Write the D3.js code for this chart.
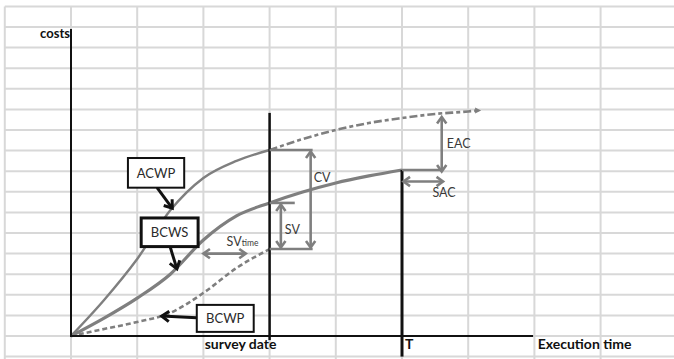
<!DOCTYPE html>
<html><head><meta charset="utf-8">
<script src="https://cdn.jsdelivr.net/npm/d3@7"></script>
<style>body{margin:0;background:#fff}svg{display:block}</style>
</head><body>
<svg id="c" width="674" height="359"></svg>
<script>
// ---- data (time units = grid columns, cost units = grid rows) ----
const acwpX = [0, 0.5, 1, 1.5, 2, 2.5, 3];
const acwpY = [0, 1.75, 3.74, 6.1, 7.67, 8.5, 9.03];
const eacX  = [3, 3.5, 4, 4.5, 5, 5.5, 6, 6.15];
const eacY  = [9.03, 9.56, 10.0, 10.34, 10.58, 10.78, 10.9, 10.95];
const bcwsX = [0, 0.5, 1, 1.5, 2, 2.5, 3, 3.5, 4, 4.5, 5];
const bcwsY = [0, 0.87, 1.84, 3.0, 4.66, 5.83, 6.46, 6.99, 7.43, 7.77, 8.06];
const bcwpX = [0, 0.5, 1, 1.5, 2, 2.5, 3];
const bcwpY = [0, 0.34, 0.68, 1.12, 2.09, 3.3, 4.22];
const surveyDate = 3, finishT = 5;
const axisLabels = ["costs", "survey date", "T", "Execution time"];
const boxLabels = ["ACWP", "BCWS", "BCWP"];
const measureLabels = ["CV", "SV", "EAC", "SAC"];

const svg = d3.select("#c");
const x = d3.scaleLinear().domain([0, 9]).range([71, 666.8]);
const y = d3.scaleLinear().domain([0, 16]).range([336, 6.4]);
const FONT = "Lato, 'Open Sans', sans-serif";
const GREY = "#7f7f7f";

// ---- spreadsheet grid ----
const g = svg.append("g");
g.selectAll("line.v").data(d3.range(-1, 9)).join("line")
  .attr("x1", d => x(d)).attr("x2", d => x(d)).attr("y1", y(16)).attr("y2", 359)
  .attr("stroke", "#d8d8d8").attr("stroke-width", 2);
g.selectAll("line.h").data(d3.range(-1, 17)).join("line")
  .attr("y1", d => y(d)).attr("y2", d => y(d)).attr("x1", x(-1)).attr("x2", 674)
  .attr("stroke", "#d8d8d8").attr("stroke-width", 2);

const zip = (xa, ya) => xa.map((v, i) => [v, ya[i]]);
const line = d3.line().x(d => x(d[0])).y(d => y(d[1])).curve(d3.curveMonotoneX);

// ---- curves ----
svg.append("path").attr("d", line(zip(acwpX, acwpY))).attr("fill", "none")
  .attr("stroke", GREY).attr("stroke-width", 2.4);
svg.append("path").attr("d", line(zip(eacX, eacY))).attr("fill", "none")
  .attr("stroke", GREY).attr("stroke-width", 2.6).attr("stroke-dasharray", "8,3,4,3");
svg.append("path").attr("d", line(zip(bcwsX, bcwsY))).attr("fill", "none")
  .attr("stroke", GREY).attr("stroke-width", 3.2);
svg.append("path").attr("d", line(zip(bcwpX, bcwpY))).attr("fill", "none")
  .attr("stroke", GREY).attr("stroke-width", 2.6).attr("stroke-dasharray", "5,3");
// end marker of forecast line
{
  const n = eacX.length - 1;
  const px = x(eacX[n]), py = y(eacY[n]);
  svg.append("path").attr("d", `M${px + 3},${py} L${px - 3},${py - 3} L${px - 3},${py + 3}Z`)
    .attr("fill", GREY);
}

// ---- axes ----
svg.append("line").attr("x1", x(0)).attr("x2", x(0)).attr("y1", y(14.9)).attr("y2", y(0) + 1)
  .attr("stroke", "#111").attr("stroke-width", 2);
svg.append("line").attr("x1", x(0)).attr("x2", x(6.98)).attr("y1", y(0)).attr("y2", y(0))
  .attr("stroke", "#111").attr("stroke-width", 2.2);
svg.append("line").attr("x1", x(surveyDate)).attr("x2", x(surveyDate)).attr("y1", y(10.83)).attr("y2", y(-0.2))
  .attr("stroke", "#111").attr("stroke-width", 2.5);
svg.append("line").attr("x1", x(finishT)).attr("x2", x(finishT)).attr("y1", y(8.06)).attr("y2", y(-1))
  .attr("stroke", "#111").attr("stroke-width", 3);

// ---- helper: chevron arrow head ----
function head(tx, ty, fx, fy, len, color, w) {
  const a = Math.atan2(ty - fy, tx - fx), s = 0.62;
  const p1 = [tx - len * Math.cos(a - s), ty - len * Math.sin(a - s)];
  const p2 = [tx - len * Math.cos(a + s), ty - len * Math.sin(a + s)];
  svg.append("path").attr("d", `M${p1}L${tx},${ty}L${p2}`).attr("fill", "none")
    .attr("stroke", color).attr("stroke-width", w).attr("stroke-linejoin", "miter");
}
function seg(x1, y1, x2, y2, color, w) {
  svg.append("line").attr("x1", x1).attr("y1", y1).attr("x2", x2).attr("y2", y2)
    .attr("stroke", color).attr("stroke-width", w);
}
function dbl(x1, y1, x2, y2) {
  seg(x1, y1, x2, y2, GREY, 2.6);
  head(x1, y1, x2, y2, 8, GREY, 2.6);
  head(x2, y2, x1, y1, 8, GREY, 2.6);
}

// ---- measures ----
const aS = acwpY[acwpY.length - 1], wS = bcwsY[6], pS = bcwpY[bcwpY.length - 1];
const cvX = 3.62, svX = 3.17;
seg(x(surveyDate), y(aS), x(cvX) + 2, y(aS), GREY, 2.6);
seg(x(surveyDate), y(pS), x(cvX) + 2, y(pS), GREY, 2.6);
dbl(x(cvX), y(aS) + 1.5, x(cvX), y(pS) - 1.5);
seg(x(surveyDate), y(wS), x(3.38), y(wS), GREY, 2.6);
dbl(x(svX), y(wS) + 1.5, x(svX), y(pS) - 1.5);
dbl(x(2.0), y(4.0), x(2.64), y(4.0));
const wT = bcwsY[bcwsY.length - 1];
seg(x(finishT), y(wT), x(5.6) + 1, y(wT), GREY, 2.6);
dbl(x(5.6), y(10.63), x(5.6), y(wT) + 1.5);
dbl(x(finishT) + 1.5, y(7.5), x(5.62), y(7.5));

// ---- boxes with black arrows ----
function box(x0, y0, x1, y1, w, label) {
  svg.append("rect").attr("x", x(x0)).attr("y", y(y0)).attr("width", x(x1) - x(x0)).attr("height", y(y1) - y(y0))
    .attr("fill", "#fff").attr("stroke", "#111").attr("stroke-width", w);
  svg.append("text").attr("x", (x(x0) + x(x1)) / 2).attr("y", (y(y0) + y(y1)) / 2 + 4.8)
    .attr("text-anchor", "middle").attr("font-family", FONT).attr("font-size", 13)
    .attr("fill", "#2a2a2a").text(label);
}
function blk(x1, y1, x2, y2) {
  seg(x(x1), y(y1), x(x2), y(y2), "#111", 3);
  head(x(x2), y(y2), x(x1), y(y1), 9, "#111", 3);
}
blk(1.3, 7.2, 1.53, 6.2);
box(0.86, 8.64, 1.71, 7.2, 2, boxLabels[0]);
blk(1.5, 4.3, 1.6, 3.26);
box(1.06, 5.73, 1.92, 4.34, 3, boxLabels[1]);
blk(1.9, 0.88, 1.37, 0.97);
box(1.9, 1.51, 2.76, 0.2, 2, boxLabels[2]);

// ---- texts ----
const t = (tx, ty, s, w, anchor, col, txt) => svg.append("text").attr("x", tx).attr("y", ty)
  .attr("font-family", FONT).attr("font-size", s).attr("font-weight", w)
  .attr("text-anchor", anchor).attr("fill", col).text(txt);
t(x(0) - 1, y(14.45), 13, "bold", "end", "#111", axisLabels[0]);
t(x(2.02), y(-0.62), 14, "bold", "start", "#111", axisLabels[1]);
t(x(finishT) + 3, y(-0.62), 14, "bold", "start", "#111", axisLabels[2]);
t(x(7.05), y(-0.62), 14, "bold", "start", "#111", axisLabels[3]);
t(x(cvX) + 3, y(7.5), 12.5, "normal", "start", "#3a3a3a", measureLabels[0]);
t(x(svX) + 4, y(4.95), 12.5, "normal", "start", "#3a3a3a", measureLabels[1]);
t(x(5.6) + 5, y(9.15), 12.5, "normal", "start", "#3a3a3a", measureLabels[2]);
t(x(5.46), y(6.75), 12.5, "normal", "start", "#3a3a3a", measureLabels[3]);
const sv = svg.append("text").attr("x", x(2.35)).attr("y", y(4.35))
  .attr("font-family", FONT).attr("font-size", 12.5).attr("fill", "#3a3a3a");
sv.append("tspan").text("SV");
sv.append("tspan").attr("font-size", 8.5).text("time");
</script>
</body></html>
